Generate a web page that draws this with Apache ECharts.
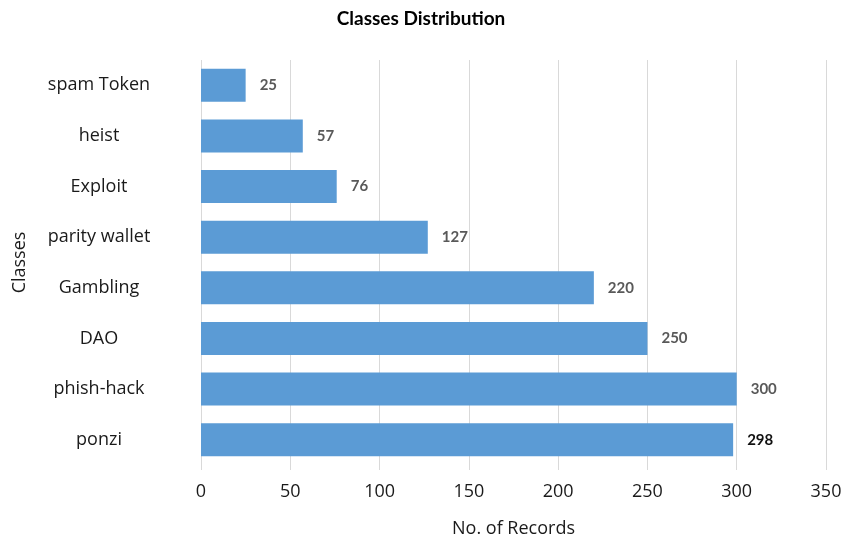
<!DOCTYPE html>
<html>
<head>
<meta charset="utf-8">
<script src="https://cdn.jsdelivr.net/npm/echarts@6/dist/echarts.min.js"></script>
<style>
  html, body { margin: 0; padding: 0; background: #ffffff; }
  #chart { width: 842px; height: 536px; }
</style>
</head>
<body>
<div id="chart"></div>
<script>
// Class names, listed top to bottom
const classes = ['spam Token', 'heist', 'Exploit', 'parity wallet', 'Gambling', 'DAO', 'phish-hack', 'ponzi'];
// Number of records per class
const records = [25, 57, 76, 127, 220, 250, 300, 298];
// Value-axis ticks
const xTicks = [0, 50, 100, 150, 200, 250, 300, 350];

const TEXT_FONT = '"Open Sans", sans-serif';
const BOLD_FONT = 'Lato, "Open Sans", sans-serif';

const chart = echarts.init(document.getElementById('chart'), null, { renderer: 'canvas' });

const barData = records.map((v, i) => {
  const item = { value: v };
  if (classes[i] === 'ponzi') item.label = { color: '#111111' };
  return item;
});

chart.setOption({
  animation: false,
  backgroundColor: '#ffffff',
  title: {
    text: 'Classes Distribution',
    left: 'center',
    top: 4,
    textStyle: { fontFamily: BOLD_FONT, fontSize: 19, fontWeight: 'bold', color: '#000000' }
  },
  grid: { left: 201, right: 16, top: 60, bottom: 71, outerBoundsMode: 'none', containLabel: false },
  xAxis: {
    type: 'value',
    min: xTicks[0],
    max: xTicks[xTicks.length - 1],
    interval: xTicks[1] - xTicks[0],
    name: 'No. of Records',
    nameLocation: 'middle',
    nameGap: 55,
    nameTextStyle: { fontFamily: TEXT_FONT, fontSize: 18, color: '#1a1a1a' },
    axisLine: { show: false },
    axisTick: { show: true, length: 5, lineStyle: { color: '#d9d9d9' } },
    axisLabel: { fontFamily: TEXT_FONT, fontSize: 18, color: '#1a1a1a', margin: 18 },
    splitLine: { show: true, lineStyle: { color: '#d9d9d9', width: 1 } }
  },
  yAxis: {
    type: 'category',
    data: classes,
    inverse: true,
    name: 'Classes',
    nameLocation: 'middle',
    nameGap: 172,
    nameRotate: 90,
    nameTextStyle: { fontFamily: TEXT_FONT, fontSize: 18, color: '#1a1a1a' },
    axisLine: { show: false },
    axisTick: { show: false },
    axisLabel: {
      fontFamily: TEXT_FONT, fontSize: 18, color: '#1a1a1a',
      align: 'center', margin: 102
    },
    splitLine: { show: false }
  },
  series: [{
    type: 'bar',
    data: barData,
    barCategoryGap: '35%',
    itemStyle: { color: '#5b9bd5' },
    label: {
      show: true,
      position: 'right',
      distance: 14,
      fontFamily: BOLD_FONT,
      fontSize: 15,
      fontWeight: 'bold',
      color: '#595959'
    }
  }]
});
</script>
</body>
</html>
